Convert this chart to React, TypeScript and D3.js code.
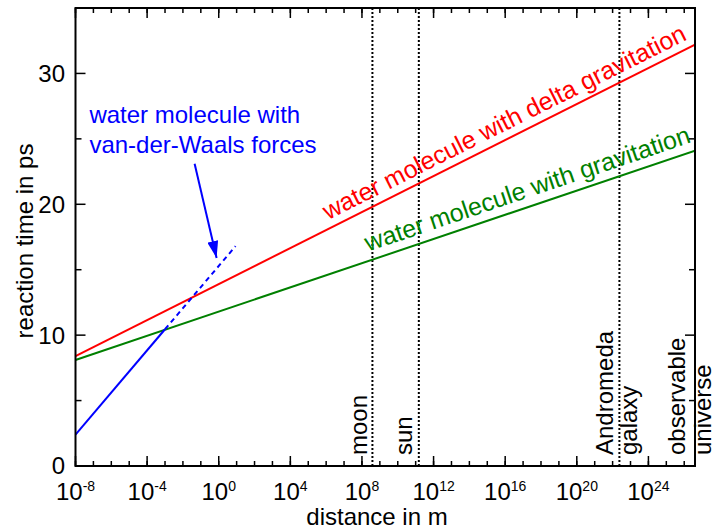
import React from 'react'
import * as d3 from 'd3'

const width = 714
const height = 530
const margin = { top: 8, right: 19, bottom: 64, left: 75.5 }

// distance in m -> reaction time in ps
const redX = [1e-8, 4e26]
const redY = [8.4, 32.2]
const greenX = [1e-8, 4e26]
const greenY = [8.1, 24.1]
const blueX = [1e-8, 1e-3]
const blueY = [2.4, 10.45]
const blueDashX = [1e-3, 8.7]
const blueDashY = [10.45, 16.8]

const xMajorExp = [-8, -4, 0, 4, 8, 12, 16, 20, 24]
const xMinorExp = d3.range(-8, 27)
const yMajor = [0, 10, 20, 30]
const yMinor = [5, 15, 25]

// moon, sun, Andromeda
const markerDist = [3.84e8, 1.5e11, 2.4e22]
const markerLabels = ['moon', 'sun', 'Andromeda', 'galaxy', 'observable', 'universe']
const markerLabelDist = [3.84e8, 1.5e11, 2.4e22, 2.4e22, 8.8e26, 8.8e26]
const markerLabelDx = [-5, -7, -6, 18, -16, 10]

const blueText = ['water molecule with', 'van-der-Waals forces']
const blueTextPos = { x: 6e-8, y: [26.2, 23.9] }
const arrowFrom = { x: 0.045, y: 23.1 }
const arrowTo = { x: 0.76, y: 15.9 }

const redLabel = 'water molecule with delta gravitation'
const redLabelX = 2e6
const greenLabel = 'water molecule with gravitation'
const greenLabelX = 3.2e8

const font = '"Liberation Sans", Arial, Helvetica, sans-serif'

const App = () => {
  const x = d3.scaleLog()
    .domain([1e-8, 4e26])
    .range([margin.left, width - margin.right])

  const y = d3.scaleLinear()
    .domain([0, 35])
    .range([height - margin.bottom, margin.top])

  const line = d3.line<[number, number]>()
    .x(d => x(d[0]))
    .y(d => y(d[1]))

  const pts = (xs: number[], ys: number[]) => xs.map((v, i) => [v, ys[i]] as [number, number])

  const x0 = margin.left
  const x1 = width - margin.right
  const y0 = height - margin.bottom
  const y1 = margin.top

  // label that runs along a straight (in log x) line
  const lineLabel = (xs: number[], ys: number[], at: number, text: string, color: string, off: number) => {
    const angle = Math.atan2(y(ys[0]) - y(ys[1]), x(xs[1]) - x(xs[0])) * 180 / Math.PI
    const t = (Math.log10(at) - Math.log10(xs[0])) / (Math.log10(xs[1]) - Math.log10(xs[0]))
    const v = ys[0] + t * (ys[1] - ys[0])
    return (
      <text transform={`translate(${x(at)},${y(v)}) rotate(${-angle})`} y={-off}
        fill={color} fontSize={25} fontFamily={font}>{text}</text>
    )
  }

  return (
    <svg width={width} height={height} style={{ position: 'absolute', left: 0, top: 0 }}>
      <defs>
        <marker id='arrow' viewBox='0 0 10 10' refX='10' refY='5' preserveAspectRatio='none'
          markerWidth='17' markerHeight='11' markerUnits='userSpaceOnUse' orient='auto'>
          <path d='M0,0 L10,5 L0,10 z' fill='blue' />
        </marker>
        <clipPath id='plot'>
          <rect x={x0} y={y1} width={x1 - x0} height={y0 - y1} />
        </clipPath>
      </defs>

      {/* vertical dotted markers */}
      {markerDist.map((d, i) => (
        <line key={i} x1={x(d)} x2={x(d)} y1={y1} y2={y0}
          stroke='black' strokeWidth={2} strokeDasharray='2,2' />
      ))}

      <g clipPath='url(#plot)' fill='none' strokeWidth={2}>
        <path d={line(pts(greenX, greenY)) as string} stroke='green' />
        <path d={line(pts(redX, redY)) as string} stroke='red' />
        <path d={line(pts(blueX, blueY)) as string} stroke='blue' />
        <path d={line(pts(blueDashX, blueDashY)) as string} stroke='blue' strokeDasharray='5,4' />
      </g>

      {/* arrow */}
      <line x1={x(arrowFrom.x)} y1={y(arrowFrom.y)} x2={x(arrowTo.x)} y2={y(arrowTo.y)}
        stroke='blue' strokeWidth={2} markerEnd='url(#arrow)' />

      {blueText.map((t, i) => (
        <text key={i} x={x(blueTextPos.x)} y={y(blueTextPos.y[i])} fill='blue'
          fontSize={24} fontFamily={font}>{t}</text>
      ))}

      {lineLabel(redX, redY, redLabelX, redLabel, 'red', 8)}
      {lineLabel(greenX, greenY, greenLabelX, greenLabel, 'green', 9)}

      {markerLabels.map((t, i) => (
        <text key={i} transform={`translate(${x(markerLabelDist[i]) + markerLabelDx[i]},455) rotate(-90)`}
          fontSize={24} fontFamily={font} fill='black'>{t}</text>
      ))}

      {/* ticks */}
      <g stroke='black' strokeWidth={1.5}>
        {xMinorExp.map(e => (
          <g key={e}>
            <line x1={x(10 ** e)} x2={x(10 ** e)} y1={y0} y2={y0 - 5} />
            <line x1={x(10 ** e)} x2={x(10 ** e)} y1={y1} y2={y1 + 5} />
          </g>
        ))}
        {xMajorExp.map(e => (
          <g key={e}>
            <line x1={x(10 ** e)} x2={x(10 ** e)} y1={y0} y2={y0 - 10} />
            <line x1={x(10 ** e)} x2={x(10 ** e)} y1={y1} y2={y1 + 10} />
          </g>
        ))}
        {yMajor.map(v => (
          <g key={v}>
            <line x1={x0} x2={x0 + 10} y1={y(v)} y2={y(v)} />
            <line x1={x1} x2={x1 - 10} y1={y(v)} y2={y(v)} />
          </g>
        ))}
        {yMinor.map(v => (
          <g key={v}>
            <line x1={x0} x2={x0 + 6} y1={y(v)} y2={y(v)} />
            <line x1={x1} x2={x1 - 6} y1={y(v)} y2={y(v)} />
          </g>
        ))}
      </g>

      <rect x={x0} y={y1} width={x1 - x0} height={y0 - y1} fill='none' stroke='black' strokeWidth={2} />

      {/* tick labels */}
      {xMajorExp.map(e => (
        <text key={e} x={x(10 ** e)} y={500} textAnchor='middle' fontSize={24} fontFamily={font}>
          10<tspan fontSize={14} dy={-9}>{e}</tspan>
        </text>
      ))}
      {yMajor.map(v => (
        <text key={v} x={65} y={y(v)} dy='0.35em' textAnchor='end' fontSize={24} fontFamily={font}>{v}</text>
      ))}

      <text x={377} y={525} textAnchor='middle' fontSize={24} fontFamily={font}>distance in m</text>
      <text transform={`translate(33,${(y0 + y1) / 2 + 4}) rotate(-90)`} textAnchor='middle'
        fontSize={24} fontFamily={font}>reaction time in ps</text>
    </svg>
  )
}

export default App
